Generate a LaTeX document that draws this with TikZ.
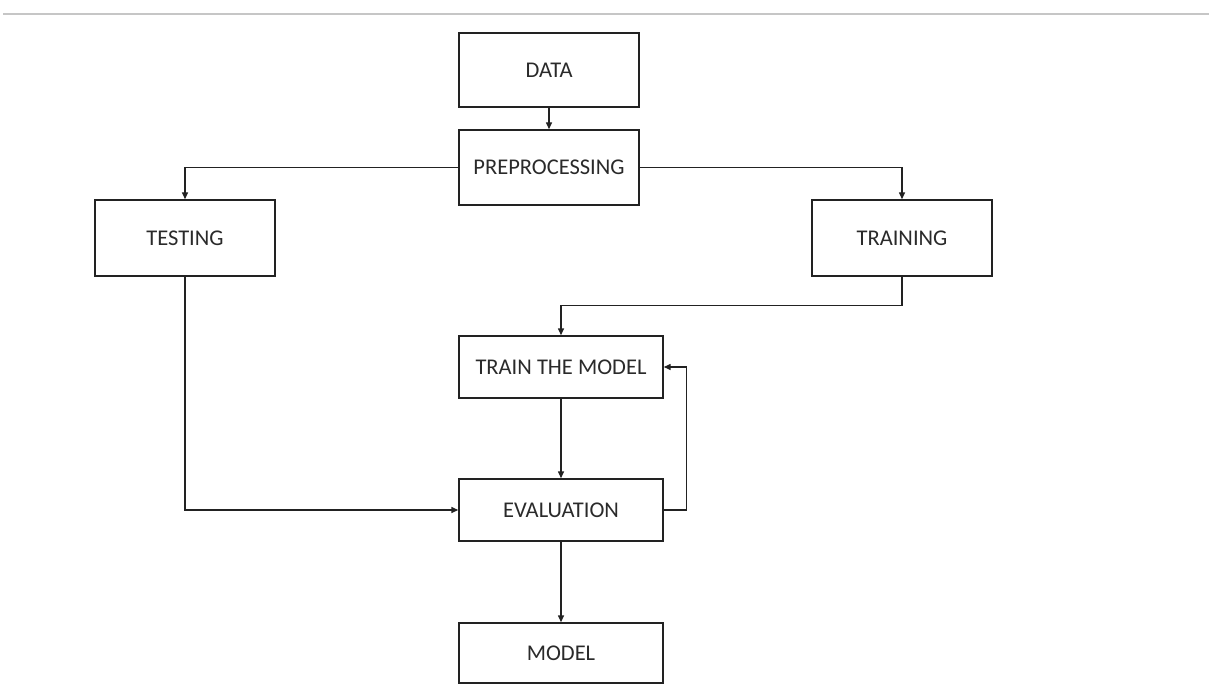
\documentclass[tikz,border=0pt]{standalone}
\usepackage{fontspec}
\setmainfont{Carlito}
\usetikzlibrary{arrows.meta}
\definecolor{txtc}{HTML}{2A2A2A}
\definecolor{linec}{HTML}{222222}
\definecolor{topline}{HTML}{C6C6C6}
\begin{document}
\begin{tikzpicture}[x=1pt,y=-1pt,
  box/.style={draw=linec,line width=1.4pt,minimum width=180pt,inner sep=0pt,
    text=txtc,font=\fontsize{22.5}{26}\selectfont},
  widebox/.style={box,minimum width=204pt},
  conn/.style={draw=linec,line width=1.4pt},
  arr/.style={conn,-{Triangle[length=7pt,width=6pt]}}]
\useasboundingbox (0,0) rectangle (1209,695);
\draw[topline,line width=2pt] (3,14.5) -- (1209,14.5);
\node[box,minimum height=74pt] (data) at (549,70) {DATA};
\node[box,minimum height=75pt] (pre) at (549,167.5) {PREPROCESSING};
\node[box,minimum height=76pt] (test) at (185,238) {TESTING};
\node[box,minimum height=76pt] (train) at (902,238) {TRAINING};
\node[widebox,minimum height=62pt] (tm) at (561,367) {TRAIN THE MODEL};
\node[widebox,minimum height=62pt] (eval) at (561,510) {EVALUATION};
\node[widebox,minimum height=60pt] (model) at (561,653) {MODEL};
\draw[arr] (data) -- (pre);
\draw[arr] (pre.west) -| (test.north);
\draw[arr] (pre.east) -| (train.north);
\draw[arr] (train.south) -- ++(0,29) -| (tm.north);
\draw[arr] (tm) -- (eval);
\draw[arr] (test.south) |- (eval.west);
\draw[arr] (eval.east) -- ++(23,0) |- (tm.east);
\draw[arr] (eval) -- (model);
\end{tikzpicture}
\end{document}
